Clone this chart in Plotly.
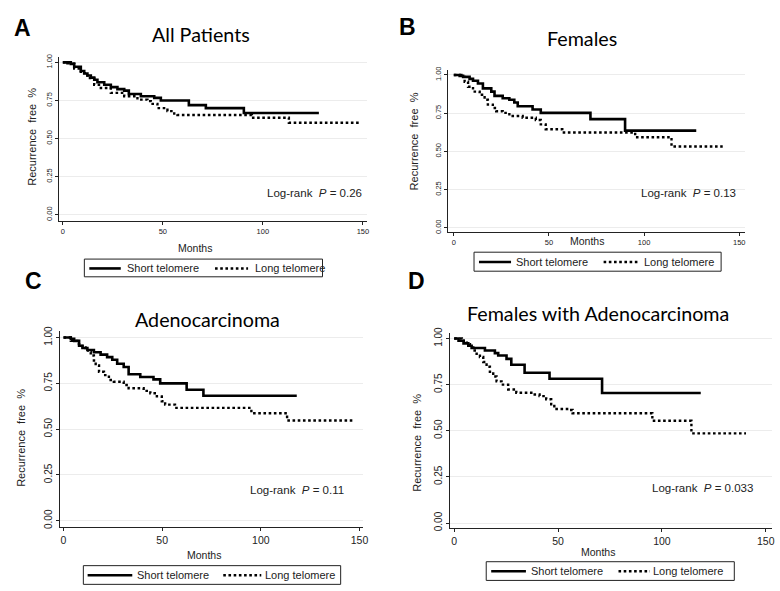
import plotly.graph_objects as go

W, H = 780, 591

# ---------------- data ----------------
panel_titles = ["All Patients", "Females", "Adenocarcinoma", "Females with Adenocarcinoma"]
panel_letters = ["A", "B", "C", "D"]
p_values = ["0.26", "0.13", "0.11", "0.033"]
series_names = ["Short telomere", "Long telomere"]
x_ticks = [0, 50, 100, 150]
y_ticks = [0, 0.25, 0.5, 0.75, 1.0]
y_ticktext = ["0.00", "0.25", "0.50", "0.75", "1.00"]

a_short_t = [0, 4, 5.7, 9, 10.7, 12.3, 14, 15.7, 17.3, 20.7, 24, 27.3, 30.7, 33, 39, 45.7, 49, 63, 71.5, 90.5, 128]
a_short_s = [1, 0.99, 0.972, 0.944, 0.927, 0.914, 0.90, 0.886, 0.87, 0.853, 0.838, 0.825, 0.815, 0.793, 0.778, 0.767, 0.75, 0.72, 0.70, 0.668, 0.668]
a_long_t = [0, 2.3, 5.7, 9, 12.3, 15.7, 19, 24, 30.7, 37.3, 42.3, 44, 47.3, 52.3, 55.7, 57.3, 94.5, 113, 148]
a_long_s = [1, 0.994, 0.96, 0.93, 0.897, 0.853, 0.832, 0.80, 0.778, 0.756, 0.746, 0.728, 0.70, 0.68, 0.664, 0.655, 0.637, 0.604, 0.604]

b_short_t = [0, 3.1, 4.9, 8.3, 10.1, 12.7, 15.3, 19.7, 21.4, 25.7, 29.2, 31.8, 33.6, 41.4, 45.7, 71.8, 90, 127.4]
b_short_s = [1, 0.994, 0.987, 0.974, 0.962, 0.944, 0.912, 0.891, 0.863, 0.848, 0.838, 0.82, 0.795, 0.774, 0.752, 0.711, 0.636, 0.636]
b_long_t = [0, 4, 5.7, 7.5, 10.1, 13.6, 16.2, 17.9, 20.5, 22.3, 25.7, 29.2, 36.2, 43.1, 45.7, 48.3, 57, 95.3, 114.4, 141.3]
b_long_s = [1, 0.987, 0.955, 0.923, 0.891, 0.87, 0.838, 0.806, 0.784, 0.763, 0.752, 0.731, 0.72, 0.705, 0.677, 0.645, 0.624, 0.593, 0.532, 0.532]

c_short_t = [0, 3.7, 5.4, 7.9, 9.6, 12.1, 15.4, 18.8, 22.1, 24.7, 27.2, 30.5, 33, 38.9, 45.6, 49, 62.4, 70.9, 118.2]
c_short_s = [1, 0.993, 0.982, 0.955, 0.943, 0.932, 0.92, 0.907, 0.893, 0.879, 0.857, 0.839, 0.80, 0.785, 0.772, 0.75, 0.715, 0.682, 0.682]
c_long_t = [0, 3.7, 7, 9.6, 11.2, 12.9, 13.8, 15.4, 16.3, 18, 20.5, 23, 25.5, 30.5, 33, 40.6, 44, 47.3, 49.8, 51.5, 56.5, 95.2, 113.3, 146.4]
c_long_s = [1, 0.982, 0.964, 0.946, 0.929, 0.92, 0.902, 0.875, 0.848, 0.813, 0.795, 0.768, 0.759, 0.741, 0.723, 0.709, 0.696, 0.679, 0.652, 0.634, 0.616, 0.587, 0.547, 0.547]

d_short_t = [0, 2.1, 4.5, 6.8, 8.4, 14.8, 19.6, 21.2, 25.2, 27.5, 33.9, 45.9, 71.2, 118.7]
d_short_s = [1, 0.988, 0.974, 0.961, 0.949, 0.935, 0.921, 0.908, 0.89, 0.858, 0.815, 0.782, 0.705, 0.705]
d_long_t = [0, 3.7, 6.1, 7.6, 9.2, 10.8, 12.4, 14, 15.6, 17.2, 18.8, 20.4, 22.8, 26, 29.9, 37.9, 41.1, 44.3, 46.7, 48.2, 55.4, 57, 95.4, 114.2, 140.5]
d_long_s = [1, 0.988, 0.97, 0.952, 0.935, 0.917, 0.9, 0.873, 0.847, 0.82, 0.794, 0.768, 0.75, 0.724, 0.706, 0.697, 0.688, 0.671, 0.644, 0.618, 0.613, 0.595, 0.554, 0.486, 0.486]

curves = [
    (a_short_t, a_short_s, a_long_t, a_long_s),
    (b_short_t, b_short_s, b_long_t, b_long_s),
    (c_short_t, c_short_s, c_long_t, c_long_s),
    (d_short_t, d_short_s, d_long_t, d_long_s),
]

# ---------------- layout geometry (pixels) ----------------
# left, right, top, bottom of axes box; pixel of x=0, x=150, y=1, y=0
geom = [
    (59, 370, 51.7, 218.3, 63.3, 365.7, 57.3, 212.0),
    (451.7, 751, 65, 229.3, 457.3, 745.0, 70.0, 225.3),
    (60, 365.7, 330, 529.3, 64.0, 362.3, 336.7, 522.7),
    (453.3, 778, 331.7, 530, 457.7, 771.7, 337.7, 525.0),
]
tick_sizes = [(7.5, 7.5), (7.5, 7.5), (10.5, 10), (10.5, 10)]  # (x, y)
title_pos = [(203, 29), (586.7, 33), (209, 318.3), (602.3, 312.7)]
letter_pos = [(23, 22), (410.5, 21), (34, 279), (420, 279)]
months_pos = [(197, 246), (591.7, 239), (205.7, 557.7), (602.3, 554)]
ytitle_pos = [(32, 133), (416.7, 137), (21.7, 439), (420.7, 443)]
logrank_pos = [(266.7, 190), (644, 190), (250, 491), (655, 489.3)]
# legend: box (x0,x1,y0,y1), solid (x0,x1), text1 x, dotted (x0,x1), text2 x, y center
legend_geom = [
    ((85, 325, 257, 275), (90, 121.7), 126, (216.7, 250), 254.5, 266.5),
    ((477.7, 726.7, 250, 269.3), (482.7, 515), 518, (608.3, 643.3), 646.5, 260),
    ((84, 343.3, 568.3, 587.3), (88.3, 133.3), 136.5, (225, 263.3), 265, 578),
    ((490, 740, 564.3, 583.3), (495, 530), 533, (623.3, 655), 656.5, 574),
]

FONT = "Arial, Liberation Sans, sans-serif"
TFONT = "Lato, Open Sans, sans-serif"
DOT = "2.6px,2.6px"

def px(x):
    return x / W

def py(y):
    return 1 - y / H

fig = go.Figure()
annotations = []
shapes = []

for i in range(4):
    left, right, top, bottom, x0p, x150p, y1p, y0p = geom[i]
    kx = (x150p - x0p) / 150.0
    ky = (y0p - y1p)
    xr = [(left - x0p) / kx, (right - x0p) / kx]
    yr = [(y0p - bottom) / ky, (y0p - top) / ky]
    sfx = "" if i == 0 else str(i + 1)
    xa, ya = "x" + sfx, "y" + sfx
    st, ss, lt, ls = curves[i]
    fig.add_trace(go.Scatter(x=st, y=ss, mode="lines", line=dict(shape="hv", color="black", width=2.6),
                             name=series_names[0], showlegend=False, xaxis=xa, yaxis=ya))
    fig.add_trace(go.Scatter(x=lt, y=ls, mode="lines", line=dict(shape="hv", color="black", width=2.4, dash=DOT),
                             name=series_names[1], showlegend=False, xaxis=xa, yaxis=ya))
    xs, ys = tick_sizes[i]
    fig.update_layout(**{
        "xaxis" + sfx: dict(domain=[px(left), px(right)], range=xr, anchor=ya, tickvals=x_ticks,
                            showgrid=False, zeroline=False, showline=True, linecolor="#222", linewidth=1,
                            ticks="outside", ticklen=3, tickcolor="#222", tickfont=dict(family=FONT, size=xs, color="#222")),
        "yaxis" + sfx: dict(domain=[py(bottom), py(top)], range=yr, anchor=xa, tickvals=y_ticks, ticktext=y_ticktext,
                            tickangle=-90, showgrid=True, gridcolor="#ececec", gridwidth=1, zeroline=False,
                            showline=True, linecolor="#222", linewidth=1, ticks="outside", ticklen=3, tickcolor="#222",
                            tickfont=dict(family=FONT, size=ys, color="#222")),
    })
    tx, ty = title_pos[i]
    annotations.append(dict(text=panel_titles[i], x=px(tx), y=py(ty), xref="paper", yref="paper",
                            showarrow=False, xanchor="center", yanchor="middle",
                            font=dict(family=TFONT, size=19.7, color="black")))
    lx, ly = letter_pos[i]
    annotations.append(dict(text="<b>" + panel_letters[i] + "</b>", x=px(lx), y=py(ly), xref="paper", yref="paper",
                            showarrow=False, xanchor="center", yanchor="middle",
                            font=dict(family=FONT, size=23, color="black")))
    mx, my = months_pos[i]
    annotations.append(dict(text="Months", x=px(mx), y=py(my), xref="paper", yref="paper",
                            showarrow=False, xanchor="center", yanchor="middle",
                            font=dict(family=FONT, size=10.5, color="#222")))
    yx, yy = ytitle_pos[i]
    annotations.append(dict(text="Recurrence  free  %", x=px(yx), y=py(yy), xref="paper", yref="paper",
                            showarrow=False, xanchor="center", yanchor="middle", textangle=-90,
                            font=dict(family=FONT, size=11, color="#222")))
    rx, ry = logrank_pos[i]
    annotations.append(dict(text="Log-rank  <i>P</i> = " + p_values[i], x=px(rx), y=py(ry), xref="paper", yref="paper",
                            showarrow=False, xanchor="left", yanchor="middle",
                            font=dict(family=FONT, size=11.5, color="#222")))
    (bx0, bx1, by0, by1), (s0, s1), t1x, (d0, d1), t2x, lyc = legend_geom[i]
    shapes.append(dict(type="rect", xref="paper", yref="paper", x0=px(bx0), x1=px(bx1), y0=py(by1), y1=py(by0),
                       line=dict(color="#222", width=1), fillcolor="white"))
    shapes.append(dict(type="line", xref="paper", yref="paper", x0=px(s0), x1=px(s1), y0=py(lyc), y1=py(lyc),
                       line=dict(color="black", width=2.6)))
    shapes.append(dict(type="line", xref="paper", yref="paper", x0=px(d0), x1=px(d1), y0=py(lyc), y1=py(lyc),
                       line=dict(color="black", width=2.4, dash=DOT)))
    annotations.append(dict(text=series_names[0], x=px(t1x), y=py(lyc), xref="paper", yref="paper",
                            showarrow=False, xanchor="left", yanchor="middle",
                            font=dict(family=FONT, size=11, color="#222")))
    annotations.append(dict(text=series_names[1], x=px(t2x), y=py(lyc), xref="paper", yref="paper",
                            showarrow=False, xanchor="left", yanchor="middle",
                            font=dict(family=FONT, size=11, color="#222")))

fig.update_layout(width=W, height=H, margin=dict(l=0, r=0, t=0, b=0),
                  paper_bgcolor="white", plot_bgcolor="white",
                  annotations=annotations, shapes=shapes, showlegend=False)

fig.write_html("out.html", config={"displayModeBar": False})

# remove the default page margin so the figure sits at the window's top-left corner
with open("out.html", "r", encoding="utf-8") as f:
    html = f.read()
html = html.replace("<head>", "<head><style>html,body{margin:0;padding:0;overflow:hidden;}</style>", 1)
with open("out.html", "w", encoding="utf-8") as f:
    f.write(html)
